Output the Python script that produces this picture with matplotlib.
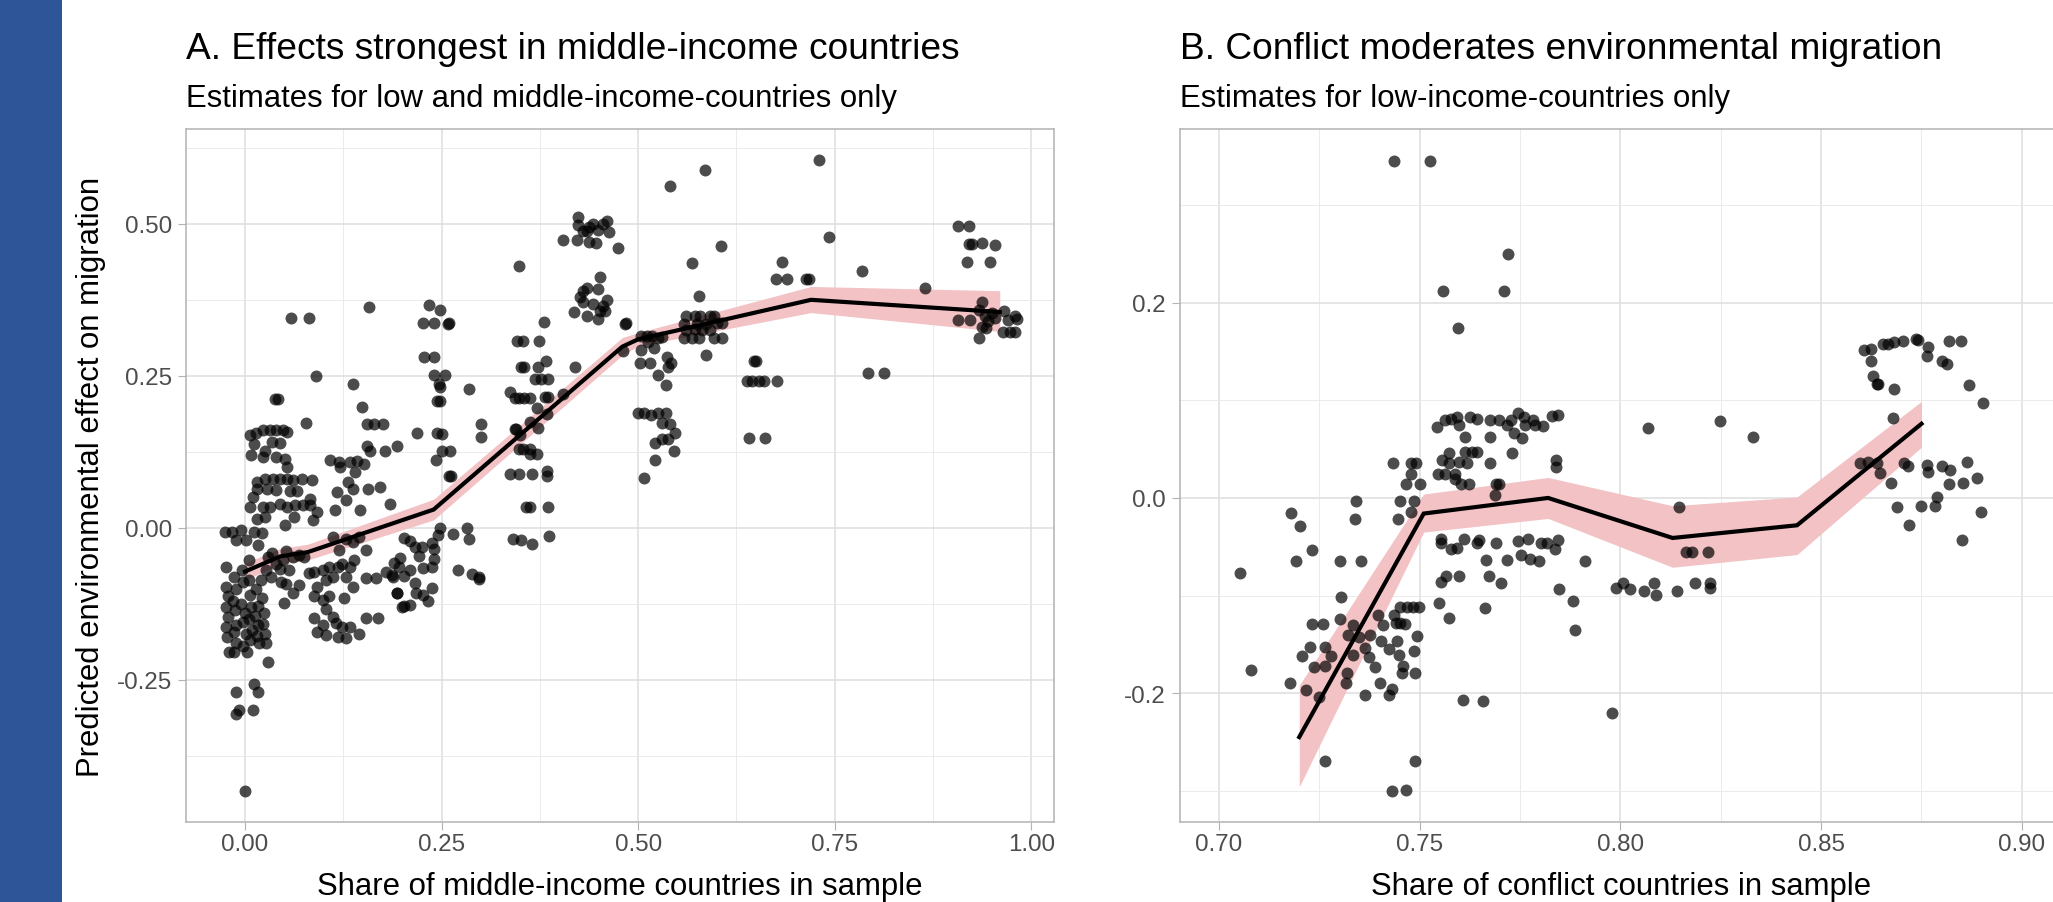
import matplotlib
matplotlib.use("Agg")
import matplotlib.pyplot as plt
from matplotlib.patches import Rectangle

# ---------------- data: panel A ----------------
a_x = [
    -0.012, -0.008, 0.010, -0.0115, 0.0115, 0.0165, 0.029, 0.0,
    -0.024, -0.024, -0.022, -0.024, -0.022, -0.024, -0.023, -0.020,
    -0.014, -0.012, -0.015, -0.013, -0.011, -0.014, -0.012, -0.014,
    -0.004, -0.002, -0.005, 0.000, -0.003, 0.001, -0.002, 0.003,
    0.006, 0.008, 0.005, 0.009, 0.007,
    0.014, 0.016, 0.013, 0.017, 0.015, 0.018,
    0.022, 0.024, 0.023, 0.025, 0.027,
    -0.026, -0.016, -0.011, -0.005, 0.001, 0.012, 0.022, 0.016, 0.0055,
    0.029, 0.035, 0.039, 0.048, 0.052, 0.061, 0.069, 0.075, 0.044, 0.056, 0.027, 0.020, 0.033, 0.046,
    0.052, 0.061, 0.069, 0.050, 0.005, 0.082,
    0.038, 0.042, 0.059, 0.082, 0.090, 0.077,
    0.006, 0.014, 0.023, 0.032, 0.040, 0.049, 0.053,
    0.011, 0.025, 0.034, 0.045, 0.023, 0.039, 0.051, 0.053,
    0.015, 0.025, 0.036, 0.045, 0.053, 0.061, 0.072, 0.085,
    0.015, 0.028, 0.040, 0.057, 0.066,
    0.006, 0.023, 0.032, 0.045, 0.053, 0.064, 0.074, 0.083,
    0.015, 0.025, 0.051, 0.062, 0.087, 0.091, 0.083, 0.008, 0.010,
    0.138, 0.149, 0.158, 0.155, 0.164, 0.175, 0.219,
    0.155, 0.159, 0.178, 0.193,
    0.108, 0.119, 0.134, 0.142, 0.151, 0.121, 0.140,
    0.131, 0.117, 0.138, 0.157, 0.172, 0.129, 0.114, 0.146, 0.185,
    0.088, 0.092, 0.088, 0.099, 0.103, 0.107, 0.112, 0.118, 0.124, 0.133, 0.139, 0.128, 0.137,
    0.099, 0.107, 0.126, 0.103, 0.112, 0.088, 0.099, 0.116, 0.124, 0.133, 0.092, 0.103, 0.118,
    0.128, 0.145, 0.154, 0.169, 0.154, 0.167, 0.179, 0.188, 0.196, 0.194, 0.200,
    0.112, 0.120, 0.128, 0.137, 0.145, 0.154,
    0.234, 0.248, 0.227, 0.240, 0.260, 0.258, 0.228, 0.240, 0.240, 0.254, 0.247, 0.248,
    0.244, 0.248, 0.285, 0.244, 0.251, 0.243, 0.250, 0.261, 0.259, 0.262, 0.300, 0.300,
    0.248, 0.246, 0.265, 0.283, 0.285, 0.271, 0.289, 0.298, 0.298,
    0.202, 0.210, 0.216, 0.225, 0.238, 0.240, 0.240, 0.221, 0.197, 0.210, 0.227, 0.238,
    0.202, 0.216, 0.238, 0.193, 0.218, 0.227, 0.233, 0.202, 0.210, 0.187, 0.189,
    0.348, 0.346, 0.353, 0.374, 0.380, 0.351, 0.355, 0.383, 0.373, 0.369, 0.376, 0.386,
    0.337, 0.343, 0.349, 0.355, 0.362, 0.382, 0.386, 0.371, 0.384, 0.363, 0.373, 0.343,
    0.345, 0.350, 0.354, 0.362, 0.371, 0.363, 0.348, 0.337, 0.349, 0.365, 0.384, 0.384,
    0.357, 0.363, 0.386, 0.341, 0.351, 0.365, 0.387, 0.404, 0.420,
    0.405, 0.422, 0.424, 0.424, 0.430, 0.435, 0.437, 0.438, 0.443, 0.447, 0.449, 0.456,
    0.460, 0.463, 0.474,
    0.451, 0.430, 0.435, 0.449, 0.426, 0.430, 0.443, 0.456, 0.460, 0.418, 0.435, 0.449,
    0.452, 0.458, 0.483,
    0.541, 0.585, 0.605, 0.569, 0.577,
    0.561, 0.572, 0.579, 0.591, 0.597,
    0.559, 0.575, 0.586, 0.600, 0.607,
    0.561, 0.572, 0.581, 0.592,
    0.559, 0.568, 0.577, 0.597, 0.607,
    0.586,
    0.504, 0.511, 0.518, 0.525, 0.531, 0.513, 0.520, 0.504, 0.481, 0.485,
    0.502, 0.515, 0.537, 0.542, 0.538, 0.525, 0.536,
    0.500, 0.507, 0.516, 0.525, 0.536, 0.531, 0.541, 0.547, 0.522, 0.531, 0.538, 0.546,
    0.521, 0.508,
    0.730, 0.743, 0.683, 0.676, 0.689, 0.714, 0.717, 0.785, 0.865, 0.907, 0.921, 0.921,
    0.925, 0.937, 0.954, 0.918, 0.948, 0.938,
    0.907, 0.922, 0.934, 0.941, 0.945, 0.950, 0.954, 0.937, 0.943, 0.934, 0.966, 0.980,
    0.971, 0.982, 0.964, 0.973, 0.980,
    0.793, 0.813, 0.647, 0.650, 0.638, 0.645, 0.654, 0.660, 0.677, 0.641, 0.661,
]
a_y = [
    -0.306, -0.299, -0.299, -0.270, -0.257, -0.270, -0.221, -0.433,
    -0.064, -0.097, -0.113, -0.130, -0.146, -0.163, -0.179, -0.204,
    -0.081, -0.100, -0.120, -0.135, -0.160, -0.172, -0.190, -0.205,
    -0.070, -0.090, -0.125, -0.140, -0.155, -0.175, -0.195, -0.205,
    -0.110, -0.130, -0.150, -0.168, -0.185,
    -0.100, -0.128, -0.145, -0.160, -0.178, -0.190,
    -0.115, -0.140, -0.158, -0.175, -0.190,
    -0.007, -0.007, -0.020, -0.004, -0.020, -0.007, -0.009, -0.028, -0.053,
    -0.048, -0.042, -0.059, -0.053, -0.039, -0.048, -0.045, -0.048, -0.067, -0.070, -0.070, -0.086, -0.081, -0.089,
    -0.092, -0.108, -0.094, -0.123, -0.086, -0.075,
    0.212, 0.212, 0.345, 0.345, 0.250, 0.173,
    0.153, 0.156, 0.161, 0.161, 0.161, 0.161, 0.158,
    0.138, 0.127, 0.141, 0.139, 0.116, 0.116, 0.113, 0.100,
    0.075, 0.080, 0.081, 0.081, 0.081, 0.079, 0.080, 0.079,
    0.064, 0.064, 0.062, 0.061, 0.061,
    0.035, 0.034, 0.034, 0.039, 0.034, 0.037, 0.037, 0.037,
    0.015, 0.018, 0.004, 0.018, 0.012, 0.026, 0.048, 0.120, 0.050,
    0.237, 0.198, 0.364, 0.170, 0.170, 0.170, 0.156,
    0.135, 0.126, 0.126, 0.134,
    0.111, 0.108, 0.108, 0.110, 0.105, 0.100, 0.092,
    0.075, 0.059, 0.064, 0.064, 0.067, 0.045, 0.030, 0.030, 0.039,
    -0.072, -0.097, -0.113, -0.070, -0.086, -0.064, -0.081, -0.064, -0.059, -0.064, -0.053, -0.081, -0.097,
    -0.119, -0.113, -0.116, -0.133, -0.146, -0.149, -0.160, -0.157, -0.163, -0.163, -0.171, -0.176, -0.179,
    -0.182, -0.174, -0.149, -0.149, -0.083, -0.083, -0.072, -0.081, -0.064, -0.108, -0.130,
    -0.015, -0.037, -0.018, -0.023, -0.015, -0.037,
    0.367, 0.358, 0.337, 0.337, 0.337, 0.335, 0.281, 0.281, 0.252, 0.252, 0.237, 0.231,
    0.209, 0.209, 0.228, 0.156, 0.155, 0.112, 0.127, 0.127, 0.085, 0.085, 0.170, 0.150,
    -0.001, -0.012, -0.010, -0.001, -0.019, -0.070, -0.076, -0.081, -0.085,
    -0.017, -0.022, -0.032, -0.032, -0.025, -0.035, -0.052, -0.047, -0.050, -0.069, -0.066, -0.064,
    -0.080, -0.091, -0.099, -0.107, -0.107, -0.110, -0.121, -0.129, -0.127, -0.077, -0.058,
    0.431, 0.307, 0.307, 0.307, 0.339, 0.265, 0.265, 0.275, 0.264, 0.245, 0.245, 0.245,
    0.223, 0.214, 0.214, 0.214, 0.214, 0.215, 0.215, 0.197, 0.187, 0.174, 0.164, 0.163,
    0.163, 0.152, 0.130, 0.130, 0.122, 0.122, 0.130, 0.088, 0.088, 0.088, 0.094, 0.086,
    0.035, 0.035, 0.035, -0.018, -0.020, -0.026, -0.013, 0.220, 0.265,
    0.473, 0.474, 0.511, 0.498, 0.488, 0.489, 0.470, 0.495, 0.500, 0.468, 0.490, 0.500,
    0.505, 0.486, 0.461,
    0.413, 0.390, 0.395, 0.393, 0.379, 0.371, 0.368, 0.365, 0.374, 0.355, 0.349, 0.344,
    0.357, 0.357, 0.335,
    0.563, 0.589, 0.464, 0.436, 0.382,
    0.348, 0.348, 0.348, 0.348, 0.348,
    0.336, 0.335, 0.336, 0.337, 0.337,
    0.326, 0.327, 0.326, 0.326,
    0.312, 0.312, 0.312, 0.312, 0.312,
    0.285,
    0.316, 0.316, 0.315, 0.312, 0.314, 0.306, 0.296, 0.293, 0.290, 0.337,
    0.271, 0.271, 0.281, 0.271, 0.265, 0.252, 0.235,
    0.188, 0.188, 0.186, 0.188, 0.188, 0.172, 0.171, 0.156, 0.140, 0.146, 0.146, 0.126,
    0.112, 0.082,
    0.605, 0.479, 0.438, 0.410, 0.410, 0.410, 0.410, 0.423, 0.394, 0.497, 0.496, 0.467,
    0.467, 0.468, 0.466, 0.438, 0.438, 0.372,
    0.342, 0.342, 0.358, 0.348, 0.340, 0.353, 0.345, 0.331, 0.329, 0.312, 0.356, 0.348,
    0.342, 0.344, 0.322, 0.322, 0.322,
    0.255, 0.255, 0.274, 0.274, 0.241, 0.241, 0.241, 0.241, 0.241, 0.148, 0.148,
]

a_fit_x = [0.00, 0.045, 0.08, 0.24, 0.48, 0.50, 0.72, 0.96]
a_fit_y = [-0.072, -0.047, -0.040, 0.030, 0.298, 0.310, 0.375, 0.355]
a_fit_lo = [-0.086, -0.060, -0.053, 0.013, 0.284, 0.299, 0.354, 0.323]
a_fit_hi = [-0.058, -0.034, -0.027, 0.047, 0.313, 0.321, 0.397, 0.390]

a_xticks = [0.00, 0.25, 0.50, 0.75, 1.00]
a_xticklabels = ["0.00", "0.25", "0.50", "0.75", "1.00"]
a_yticks = [-0.25, 0.00, 0.25, 0.50]
a_yticklabels = ["-0.25", "0.00", "0.25", "0.50"]

# ---------------- data: panel B ----------------
b_x = [
    0.7435, 0.7526, 0.772, 0.7559, 0.771, 0.7596,
    0.7052, 0.708, 0.7177, 0.7193, 0.7231, 0.7302, 0.7354,
    0.7304, 0.7231, 0.7258, 0.7302,
    0.7228, 0.7263, 0.7206, 0.7279, 0.7238, 0.7263, 0.7217, 0.7248,
    0.7335, 0.7321, 0.7350, 0.7377, 0.7335, 0.7363, 0.7374, 0.7318, 0.7316, 0.7364, 0.7388,
    0.7402, 0.7423, 0.7430,
    0.7396, 0.7408, 0.7435, 0.7440, 0.7452, 0.7464,
    0.7450, 0.7469, 0.7483, 0.7498,
    0.7403, 0.7443, 0.7423, 0.7448, 0.7485, 0.7458, 0.7456, 0.7488, 0.7493,
    0.7263, 0.7489, 0.7431, 0.7467,
    0.7549, 0.7572, 0.7608, 0.7658, 0.7662,
    0.7179, 0.7203, 0.7341, 0.7340,
    0.7544, 0.7564, 0.7577, 0.7593, 0.7598, 0.7626, 0.7643, 0.7676, 0.7697, 0.7717, 0.7728,
    0.7746, 0.7761, 0.7763, 0.7783, 0.7788, 0.7808, 0.7829, 0.7845,
    0.7612, 0.7676, 0.7734, 0.7755,
    0.7573, 0.7612, 0.7631, 0.7643, 0.7555, 0.7573, 0.7598, 0.7618, 0.7674, 0.7730, 0.7839, 0.7839,
    0.7546, 0.7564, 0.7589, 0.7589, 0.7604, 0.7622, 0.7690, 0.7697, 0.7688,
    0.7434, 0.7478, 0.7490, 0.7478, 0.7465, 0.7502, 0.7450, 0.7486, 0.7479, 0.7445,
    0.7552, 0.7552, 0.7577, 0.7593, 0.7610, 0.7643, 0.7647, 0.7691, 0.7746, 0.7769, 0.7802,
    0.7817, 0.7836, 0.7845,
    0.7552, 0.7566, 0.7598, 0.7673, 0.7702, 0.7666, 0.7717, 0.7753, 0.7775, 0.7798, 0.7912,
    0.7846, 0.7882, 0.7887, 0.7979,
    0.8068, 0.8248, 0.8330, 0.8146, 0.8163, 0.8179, 0.8218,
    0.7990, 0.8007, 0.8024, 0.8058, 0.8083, 0.8088, 0.8140, 0.8187, 0.8222, 0.8222,
    0.8606, 0.8625, 0.8625, 0.8629, 0.8639, 0.8642, 0.8654, 0.8667, 0.8681, 0.8704, 0.8736,
    0.8742, 0.8767, 0.8763, 0.8800, 0.8813, 0.8818, 0.8848, 0.8682, 0.8868, 0.8902, 0.8679,
    0.8596, 0.8617, 0.8638, 0.8646, 0.8675, 0.8706, 0.8717, 0.8763, 0.8767, 0.8800, 0.8821,
    0.8863, 0.8888, 0.8819, 0.8853, 0.8788, 0.8783, 0.8748, 0.8689, 0.8718, 0.8898, 0.8850,
]
b_y = [
    0.345, 0.345, 0.250, 0.212, 0.212, 0.174,
    -0.077, -0.176, -0.190, -0.065, -0.053, -0.065, -0.065,
    -0.101, -0.129, -0.129, -0.124,
    -0.153, -0.153, -0.162, -0.162, -0.173, -0.172, -0.197, -0.204,
    -0.130, -0.140, -0.142, -0.140, -0.161, -0.154, -0.163, -0.179, -0.190, -0.202, -0.173,
    -0.190, -0.202, -0.196,
    -0.120, -0.130, -0.120, -0.128, -0.128, -0.129,
    -0.112, -0.112, -0.112, -0.112,
    -0.147, -0.147, -0.155, -0.161, -0.157, -0.172, -0.179, -0.179, -0.141,
    -0.270, -0.270, -0.300, -0.299,
    -0.108, -0.123, -0.207, -0.208, -0.113,
    -0.015, -0.029, -0.003, -0.022,
    0.073, 0.080, 0.081, 0.083, 0.075, 0.083, 0.081, 0.080, 0.080, 0.075, 0.080,
    0.087, 0.083, 0.075, 0.080, 0.075, 0.074, 0.084, 0.085,
    0.062, 0.062, 0.067, 0.061,
    0.046, 0.047, 0.047, 0.047, 0.039, 0.036, 0.037, 0.036, 0.036, 0.046, 0.039, 0.032,
    0.025, 0.025, 0.025, 0.019, 0.014, 0.014, 0.014, 0.014, 0.003,
    0.036, 0.036, 0.036, 0.025, 0.014, 0.014, -0.003, -0.003, -0.014, -0.022,
    -0.042, -0.046, -0.052, -0.051, -0.042, -0.046, -0.043, -0.046, -0.044, -0.042, -0.046,
    -0.046, -0.052, -0.043,
    -0.086, -0.080, -0.080, -0.080, -0.087, -0.064, -0.064, -0.058, -0.063, -0.065, -0.065,
    -0.093, -0.106, -0.135, -0.220,
    0.072, 0.079, 0.062, -0.009, -0.055, -0.055, -0.055,
    -0.092, -0.087, -0.093, -0.095, -0.087, -0.099, -0.095, -0.087, -0.087, -0.092,
    0.152, 0.153, 0.140, 0.125, 0.117, 0.117, 0.158, 0.158, 0.160, 0.161, 0.163,
    0.162, 0.155, 0.145, 0.140, 0.137, 0.161, 0.161, 0.112, 0.116, 0.097, 0.082,
    0.036, 0.037, 0.036, 0.026, 0.015, 0.036, 0.033, 0.034, 0.027, 0.033, 0.029,
    0.037, 0.020, 0.014, 0.015, 0.001, -0.008, -0.008, -0.009, -0.028, -0.014, -0.043,
]

b_fit_x = [0.720, 0.751, 0.782, 0.813, 0.844, 0.875]
b_fit_y = [-0.245, -0.016, 0.000, -0.041, -0.028, 0.076]
b_fit_lo = [-0.296, -0.035, -0.021, -0.071, -0.058, 0.052]
b_fit_hi = [-0.192, 0.004, 0.021, -0.008, 0.001, 0.099]

b_xticks = [0.70, 0.75, 0.80, 0.85, 0.90]
b_xticklabels = ["0.70", "0.75", "0.80", "0.85", "0.90"]
b_yticks = [-0.2, 0.0, 0.2]
b_yticklabels = ["-0.2", "0.0", "0.2"]

titles = ["A. Effects strongest in middle-income countries",
          "B. Conflict moderates environmental migration"]
subtitles = ["Estimates for low and middle-income-countries only",
             "Estimates for low-income-countries only"]
xlabels = ["Share of middle-income countries in sample",
           "Share of conflict countries in sample"]
ylabel = "Predicted environmental effect on migration"

# ---------------- styling / layout ----------------
W, H = 2053, 903
DPI = 100
FONT = ["Liberation Sans", "DejaVu Sans"]
plt.rcParams["font.family"] = FONT

fig = plt.figure(figsize=(W / DPI, H / DPI), dpi=DPI)
fig.patch.set_facecolor("white")

# blue strip on the left
fig.add_artist(Rectangle((0, 0), 61.5 / W, 1, transform=fig.transFigure,
                         facecolor="#2E5597", edgecolor="none", zorder=0))

def px_box(left, top, right, bottom):
    return [left / W, 1 - bottom / H, (right - left) / W, (bottom - top) / H]

GRID_MAJ = "#DEDEDE"
BORDER = "#B3B3B3"
TICKCOL = "#4D4D4D"
RIBBON = "#F2C2C5"

def style_axes(ax, xlim, ylim, xt, xtl, yt, ytl, xminor, yminor):
    ax.set_xlim(*xlim)
    ax.set_ylim(*ylim)
    ax.set_xticks(xt)
    ax.set_xticklabels(xtl)
    ax.set_yticks(yt)
    ax.set_yticklabels(ytl)
    ax.set_xticks(xminor, minor=True)
    ax.set_yticks(yminor, minor=True)
    ax.grid(True, which="major", color=GRID_MAJ, linewidth=1.1, zorder=0)
    ax.grid(True, which="minor", color="#E8E8E8", linewidth=0.6, zorder=0)
    ax.set_axisbelow(True)
    for s in ax.spines.values():
        s.set_color(BORDER)
        s.set_linewidth(1.1)
    ax.tick_params(which="major", length=5.5, width=0.8, color=BORDER,
                   labelcolor=TICKCOL, labelsize=17.4)
    ax.tick_params(axis="x", which="major", pad=2.5)
    ax.tick_params(axis="y", which="major", pad=4.5)
    ax.tick_params(which="minor", length=0)
    for lab in ax.get_xticklabels() + ax.get_yticklabels():
        lab.set_family(FONT)

def draw_panel(ax, xs, ys, fx, fy, flo, fhi):
    ax.fill_between(fx, flo, fhi, color=RIBBON, linewidth=0, zorder=2)
    ax.plot(fx, fy, color="black", linewidth=3.0, zorder=3, solid_joinstyle="miter")
    ax.scatter(xs, ys, s=74, color="black", alpha=0.7, linewidths=0, zorder=4)

axA = fig.add_axes(px_box(186, 130, 1054, 823))
draw_panel(axA, a_x, a_y, a_fit_x, a_fit_y, a_fit_lo, a_fit_hi)
style_axes(axA, (-0.075, 1.029), (-0.484, 0.656),
           a_xticks, a_xticklabels, a_yticks, a_yticklabels,
           [0.125, 0.375, 0.625, 0.875], [-0.375, -0.125, 0.125, 0.375, 0.625])

axB = fig.add_axes(px_box(1180, 130, 2062, 823))
draw_panel(axB, b_x, b_y, b_fit_x, b_fit_y, b_fit_lo, b_fit_hi)
style_axes(axB, (0.6903, 0.910), (-0.332, 0.378),
           b_xticks, b_xticklabels, b_yticks, b_yticklabels,
           [0.725, 0.775, 0.825, 0.875], [-0.3, -0.1, 0.1, 0.3])

# titles and subtitles
for left, t, st in [(186, titles[0], subtitles[0]), (1180, titles[1], subtitles[1])]:
    fig.text(left / W, 1 - 59 / H, t, fontsize=26.7, color="black",
             ha="left", va="baseline")
    fig.text(left / W, 1 - 107 / H, st, fontsize=22.4, color="black",
             ha="left", va="baseline")

# axis titles
fig.text((186 + 1054) / 2 / W, 1 - 895 / H, xlabels[0], fontsize=22.4,
         ha="center", va="baseline")
fig.text((1180 + 2062) / 2 / W, 1 - 895 / H, xlabels[1], fontsize=22.4,
         ha="center", va="baseline")
fig.text(91 / W, 1 - 476.5 / H, ylabel, fontsize=22.4, rotation=90,
         ha="center", va="center")

fig.savefig("out.png", dpi=DPI, facecolor="white")
